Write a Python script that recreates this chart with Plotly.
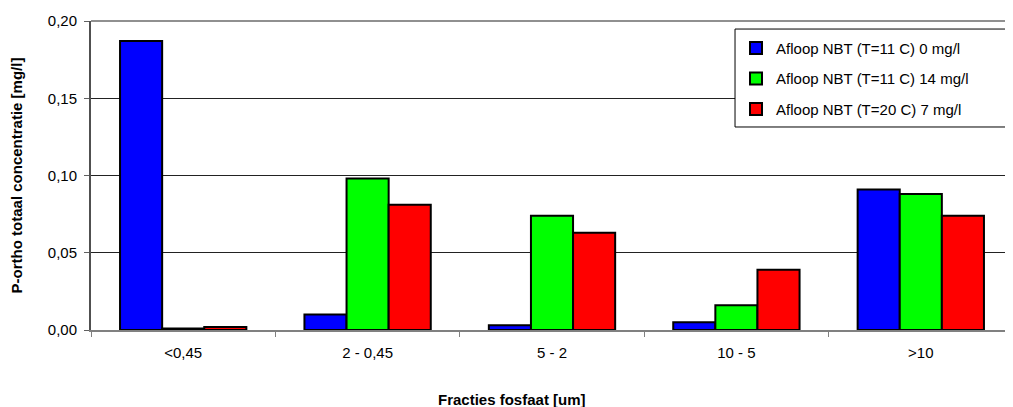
import plotly.graph_objects as go

categories = ["<0,45", "2 - 0,45", "5 - 2", "10 - 5", ">10"]
series_names = ["Afloop NBT (T=11 C) 0 mg/l", "Afloop NBT (T=11 C) 14 mg/l", "Afloop NBT (T=20 C) 7 mg/l"]
blue_vals = [0.187, 0.010, 0.003, 0.005, 0.091]
green_vals = [0.001, 0.098, 0.074, 0.016, 0.088]
red_vals = [0.002, 0.081, 0.063, 0.039, 0.074]
y_ticks = [0.0, 0.05, 0.10, 0.15, 0.20]

colors = ["#0000FF", "#00FF00", "#FF0000"]
FONT = "Liberation Sans, Arial, sans-serif"

fig = go.Figure()
for i, (name, vals, c) in enumerate(zip(series_names, [blue_vals, green_vals, red_vals], colors)):
    fig.add_trace(go.Bar(
        x=categories, y=vals, name=name, legendgroup=f"g{i}",
        marker=dict(color=c, line=dict(color="black", width=2)),
    ))

fig.update_layout(
    width=1005, height=399,
    margin=dict(l=83, r=0, t=13, b=77),
    paper_bgcolor="white", plot_bgcolor="white",
    barmode="group", bargap=0.315, bargroupgap=0,
    separators=",.",
    font=dict(family=FONT, size=15, color="black"),
    legend=dict(
        x=0.6996, y=0.965, xanchor="left", yanchor="top",
        bgcolor="rgba(0,0,0,0)", borderwidth=0,
        font=dict(family=FONT, size=15, color="black"),
        tracegroupgap=8,
    ),
    showlegend=True,
)
fig.update_xaxes(
    type="category", tickson="boundaries",
    ticks="outside", ticklen=5, tickcolor="#808080",
    showline=True, linecolor="#808080", linewidth=2,
    showgrid=False, ticklabelstandoff=8,
    tickfont=dict(family=FONT, size=15),
)
fig.update_yaxes(
    range=[0, 0.2], tickvals=y_ticks, tickformat=".2f",
    ticks="outside", ticklen=5, tickcolor="#606060",
    showline=True, linecolor="#505050", linewidth=2,
    showgrid=True, gridcolor="#222222", gridwidth=1,
    zeroline=False, ticklabelstandoff=4,
    title=dict(text="<b>P-ortho totaal concentratie [mg/l]</b>", font=dict(family=FONT, size=15), standoff=22),
    tickfont=dict(family=FONT, size=15),
)
# plot-area top border
fig.add_shape(type="line", xref="paper", yref="paper", x0=0, x1=1, y0=1, y1=1,
              line=dict(color="#909090", width=2))
# legend box
fig.add_shape(type="rect", xref="paper", yref="paper", x0=0.6985, x1=0.9957, y0=0.657, y1=0.974,
              line=dict(color="black", width=1), fillcolor="white", layer="above")
# x axis title
fig.add_annotation(text="<b>Fracties fosfaat [um]</b>", xref="paper", yref="paper",
                   x=0.4566, y=-0.2265, xanchor="center", yanchor="middle", showarrow=False,
                   font=dict(family=FONT, size=15, color="black"))

fig.write_html("out.html")
